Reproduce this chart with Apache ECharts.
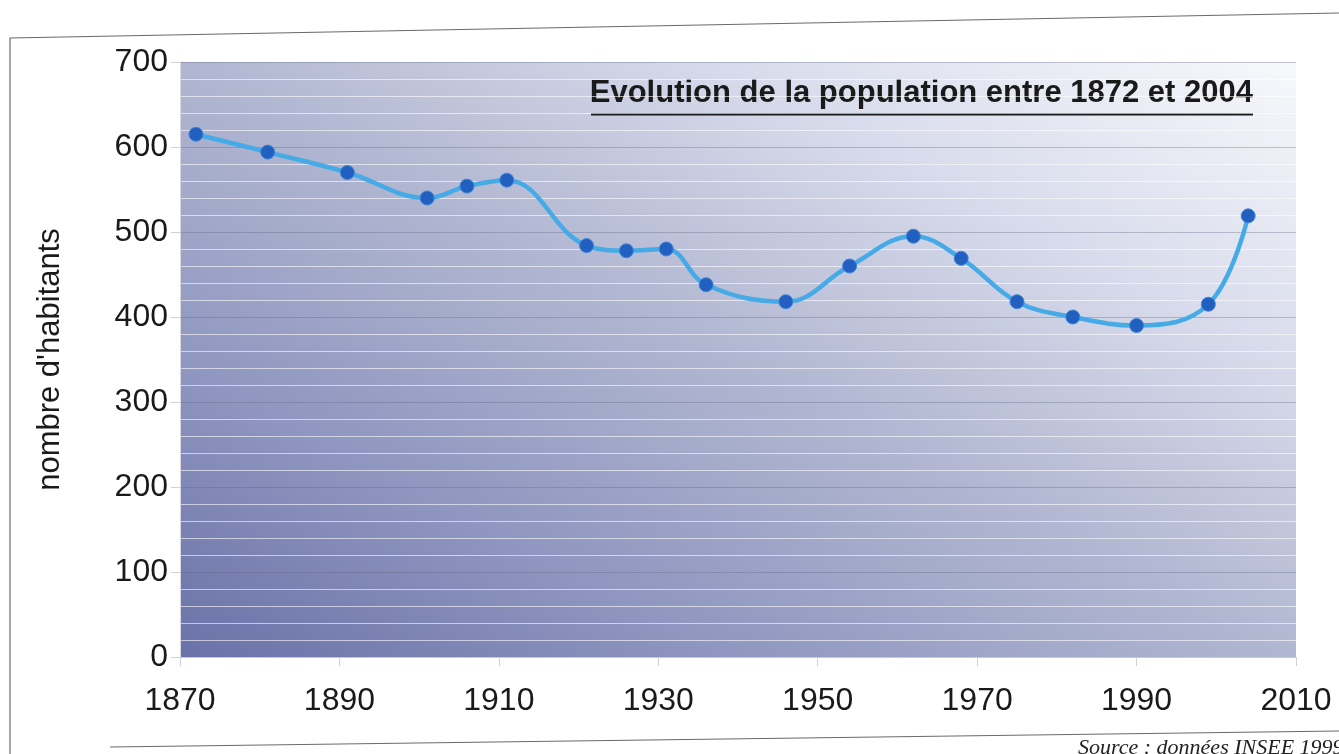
<!DOCTYPE html>
<html lang="fr">
<head>
    <meta charset="UTF-8">
    <title>Evolution de la population</title>
    <script src="https://cdn.jsdelivr.net/npm/echarts@6/dist/echarts.min.js"></script>
    <style>
        html, body { margin: 0; padding: 0; background: #fff; }
        #chart { width: 1339px; height: 754px; }
    </style>
</head>
<body>
    <div id="chart"></div>
    <script>
        // années de recensement et nombre d'habitants
        const annees = [1872, 1881, 1891, 1901, 1906, 1911, 1921, 1926, 1931, 1936, 1946, 1954, 1962, 1968, 1975, 1982, 1990, 1999, 2004];
        const habitants = [615, 594, 570, 540, 554, 561, 484, 478, 480, 438, 418, 460, 495, 469, 418, 400, 390, 415, 519];
        const titre = 'Evolution de la population entre 1872 et 2004';
        const source = 'Source : données INSEE 1999';

        const chart = echarts.init(document.getElementById('chart'));
        const police = '"Liberation Sans", Arial, sans-serif';

        // dégradé du fond : sombre en bas à gauche, presque blanc en haut à droite
        const fond = new echarts.graphic.LinearGradient(180, 656, 674, -271, [
            { offset: 0, color: '#6a72a8' },
            { offset: 0.25, color: '#9097c0' },
            { offset: 0.5, color: '#b1b7d1' },
            { offset: 0.75, color: '#d9dcec' },
            { offset: 1, color: '#f8f9fc' }
        ], true);

        const option = {
            animation: false,
            grid: {
                left: 180, right: 43, top: 62, bottom: 97,
                show: true,
                borderWidth: 0,
                backgroundColor: fond
            },
            xAxis: {
                type: 'value',
                min: 1870, max: 2010, interval: 20,
                axisLine: { show: true, lineStyle: { color: '#c8c8d0' } },
                axisTick: { show: true, length: 9, lineStyle: { color: '#d0d0d6' } },
                axisLabel: {
                    color: '#1a1a1a', fontSize: 32, fontFamily: police, margin: 28,
                    formatter: v => String(v)
                },
                splitLine: { show: false }
            },
            yAxis: {
                type: 'value',
                min: 0, max: 700, interval: 100,
                name: "nombre d'habitants",
                nameLocation: 'middle',
                nameGap: 114,
                nameTextStyle: { color: '#1a1a1a', fontSize: 31, fontFamily: police },
                axisLine: { show: true, lineStyle: { color: '#d8d8de' } },
                axisTick: { show: true, length: 9, lineStyle: { color: '#d0d0d6' } },
                axisLabel: { color: '#1a1a1a', fontSize: 32, fontFamily: police, margin: 12 },
                splitLine: { show: true, lineStyle: { color: 'rgba(95,100,130,0.35)', width: 1 } },
                minorTick: { show: false, splitNumber: 5 },
                minorSplitLine: { show: true, lineStyle: { color: 'rgba(255,255,255,0.6)', width: 1 } }
            },
            series: [{
                type: 'line',
                data: annees.map((a, i) => [a, habitants[i]]),
                smooth: 0.4,
                lineStyle: { color: '#45aae6', width: 4.5 },
                symbol: 'circle',
                symbolSize: 14,
                itemStyle: { color: '#2160c0', borderColor: '#3f86d6', borderWidth: 1 }
            }],
            graphic: [
                {
                    type: 'text', right: 86, top: 78,
                    style: { text: titre, fill: '#1a1a1a', font: 'bold 31px ' + police }
                },
                {
                    type: 'rect', right: 86, top: 113,
                    shape: { width: 662, height: 2.5 },
                    style: { fill: '#1a1a1a' }
                },
                {
                    type: 'polyline',
                    shape: { points: [[10, 754], [10, 38], [1339, 13]] },
                    style: { stroke: '#6a6a6a', lineWidth: 1.2, fill: null }
                },
                {
                    type: 'polyline',
                    shape: { points: [[110, 747], [1339, 731]] },
                    style: { stroke: '#6a6a6a', lineWidth: 1.2, fill: null }
                },
                {
                    type: 'text', left: 1078, top: 737,
                    style: { text: source, fill: '#222', font: 'italic 22px "Liberation Serif", serif' }
                }
            ]
        };
        chart.setOption(option);
    </script>
</body>
</html>
